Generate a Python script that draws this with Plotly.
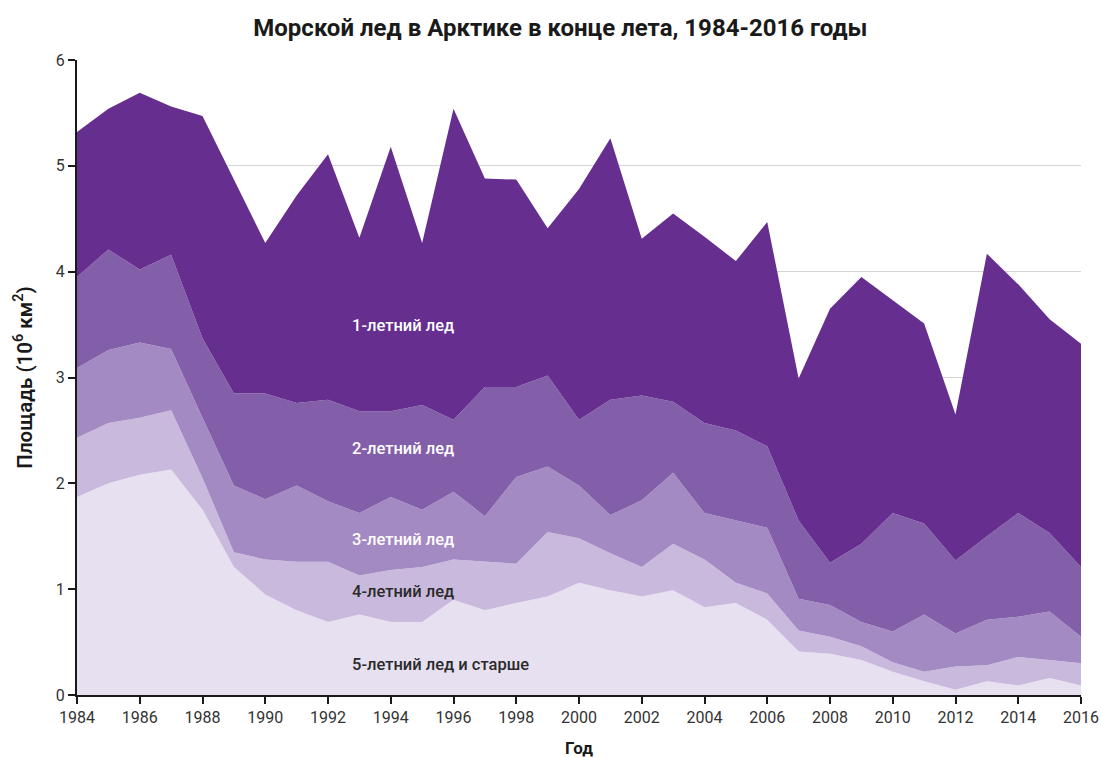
import plotly.graph_objects as go

years = list(range(1984, 2017))

# Area (10^6 km^2) by ice age
age5_plus = [1.87, 2.00, 2.08, 2.13, 1.75, 1.21, 0.95, 0.80, 0.69, 0.76, 0.69,
             0.69, 0.90, 0.80, 0.87, 0.93, 1.06, 0.99, 0.93, 0.99, 0.83, 0.87,
             0.71, 0.41, 0.39, 0.33, 0.22, 0.13, 0.05, 0.13, 0.09, 0.16, 0.09]
age4 = [0.56, 0.57, 0.54, 0.56, 0.30, 0.14, 0.33, 0.46, 0.57, 0.37, 0.49,
        0.52, 0.38, 0.46, 0.37, 0.61, 0.42, 0.35, 0.28, 0.44, 0.45, 0.19,
        0.25, 0.20, 0.16, 0.13, 0.09, 0.09, 0.22, 0.15, 0.27, 0.17, 0.21]
age3 = [0.66, 0.69, 0.71, 0.58, 0.57, 0.63, 0.57, 0.72, 0.57, 0.59, 0.69,
        0.54, 0.64, 0.43, 0.82, 0.62, 0.50, 0.36, 0.63, 0.67, 0.44, 0.59,
        0.62, 0.30, 0.30, 0.23, 0.29, 0.54, 0.31, 0.43, 0.38, 0.46, 0.25]
age2 = [0.86, 0.95, 0.69, 0.89, 0.75, 0.87, 1.00, 0.78, 0.96, 0.96, 0.81,
        0.99, 0.68, 1.22, 0.85, 0.86, 0.62, 1.09, 0.99, 0.67, 0.85, 0.85,
        0.77, 0.74, 0.40, 0.74, 1.12, 0.86, 0.69, 0.79, 0.98, 0.74, 0.66]
age1 = [1.37, 1.33, 1.67, 1.40, 2.10, 2.02, 1.42, 1.96, 2.32, 1.64, 2.50,
        1.53, 2.94, 1.97, 1.96, 1.39, 2.18, 2.47, 1.48, 1.78, 1.76, 1.60,
        2.12, 1.34, 2.40, 2.52, 2.01, 1.89, 1.38, 2.67, 2.16, 2.02, 2.11]

series_names = ["5-летний лед и старше", "4-летний лед", "3-летний лед",
                "2-летний лед", "1-летний лед"]
series_values = [age5_plus, age4, age3, age2, age1]
colors = ["#E6E0F0", "#C9BADD", "#A48AC3", "#835EA9", "#652E8F"]
label_colors = ["#2a2a2a", "#2a2a2a", "#ffffff", "#ffffff", "#ffffff"]
label_y = [0.29, 0.98, 1.47, 2.33, 3.49]

title_text = "Морской лед в Арктике в конце лета, 1984-2016 годы"
x_title = "Год"
y_title = "Площадь (10<sup>6</sup> км<sup>2</sup>)"

fig = go.Figure()
for name, vals, col in zip(series_names, series_values, colors):
    fig.add_trace(go.Scatter(
        x=years, y=vals, name=name, mode="lines",
        stackgroup="ice", line=dict(width=0, color=col),
        fillcolor=col, hoverinfo="x+y+name"))

for name, ly, lc in zip(series_names, label_y, label_colors):
    fig.add_annotation(x=1992.7, y=ly, text=name, showarrow=False,
                       xanchor="left", yanchor="middle",
                       font=dict(family="Roboto", size=16.5, color=lc,
                                 weight=500))

fig.update_layout(
    width=1101, height=758,
    margin=dict(l=77, r=20, t=60, b=63),
    paper_bgcolor="white", plot_bgcolor="white",
    showlegend=False,
    title=dict(text="<b>" + title_text + "</b>", x=0.509, xanchor="center",
               y=0.963, yanchor="middle",
               font=dict(family="Roboto", size=24, color="#1a1a1a")),
    font=dict(family="Roboto", size=16, color="#333333"),
)
fig.update_xaxes(
    range=[1984, 2016], tickmode="array", tickvals=list(range(1984, 2017, 2)),
    automargin=False,
    showgrid=False, zeroline=False, showline=True, linecolor="#1a1a1a",
    linewidth=2, ticks="outside", ticklen=7, tickwidth=2, tickcolor="#1a1a1a",
    tickfont=dict(family="Roboto", size=16, color="#333333"),
    title=dict(text="<b>" + x_title + "</b>", standoff=16,
               font=dict(family="Roboto", size=17, color="#1a1a1a")))
fig.update_yaxes(
    range=[0, 6], tickmode="array", tickvals=[0, 1, 2, 3, 4, 5, 6],
    automargin=False,
    showgrid=True, gridcolor="#d4d4d4", gridwidth=1, zeroline=False,
    showline=True, linecolor="#1a1a1a", linewidth=2, ticks="outside",
    ticklen=7, tickwidth=2, tickcolor="#1a1a1a",
    tickfont=dict(family="Roboto", size=16, color="#333333"),
    title=dict(text=y_title, standoff=18,
               font=dict(family="Roboto", size=20.5, color="#1a1a1a",
                         weight=600)))

# Remove the default 8px page margin so the figure fills the window exactly.
fig.write_html(
    "out.html",
    config={"displayModeBar": False},
    post_script="document.body.style.margin='0px';"
                "document.body.style.overflow='hidden';")
